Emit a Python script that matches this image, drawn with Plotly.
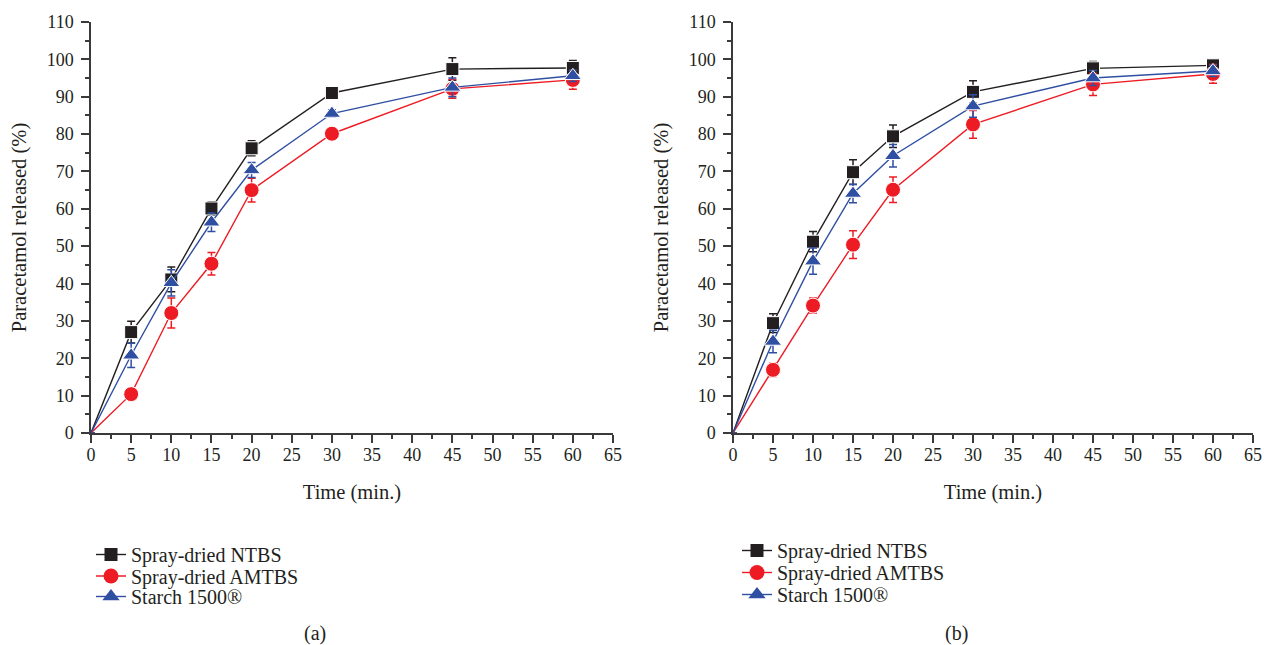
import plotly.graph_objects as go

time_min = [0, 5, 10, 15, 20, 30, 45, 60]

# Panel (a)
a_ntbs = [0, 27.0, 41.1, 60.1, 76.2, 91.0, 97.4, 97.7]
a_ntbs_err = [0, 2.9, 3.3, 1.8, 2.0, 0.8, 3.0, 2.0]
a_amtbs = [0, 10.4, 32.1, 45.3, 65.0, 80.1, 92.1, 94.5]
a_amtbs_err = [0, 0.8, 4.0, 3.0, 3.2, 1.5, 2.5, 2.5]
a_starch = [0, 20.8, 40.2, 56.4, 70.4, 85.5, 92.5, 95.6]
a_starch_err = [0, 3.3, 3.5, 2.5, 2.0, 1.0, 2.5, 1.5]

# Panel (b)
b_ntbs = [0, 29.4, 51.2, 69.8, 79.4, 91.3, 97.6, 98.4]
b_ntbs_err = [0, 2.5, 2.7, 3.3, 3.0, 3.0, 1.8, 1.5]
b_amtbs = [0, 16.9, 34.1, 50.4, 65.1, 82.6, 93.3, 96.1]
b_amtbs_err = [0, 1.8, 2.0, 3.7, 3.4, 3.7, 3.0, 2.5]
b_starch = [0, 24.5, 46.0, 64.1, 74.2, 87.5, 95.0, 96.9]
b_starch_err = [0, 3.0, 3.5, 2.5, 3.0, 3.0, 2.0, 1.5]

series_names = ["Spray-dried NTBS", "Spray-dried AMTBS", "Starch 1500®"]
x_ticks = list(range(0, 70, 5))
y_ticks = list(range(0, 120, 10))
x_title = "Time (min.)"
y_title = "Paracetamol released (%)"
panel_labels = ["(a)", "(b)"]

colors = ["#231f20", "#ed1c24", "#2f4fa2"]
symbols = ["square", "circle", "triangle-up"]
msizes = [13, 15, 15]
FONT = "Liberation Serif, Times New Roman, serif"
TXT = "#231f20"
AX = "#3a3a3a"
W, H = 1264, 645

def px(v):
    return v / W

def py(v):
    return 1 - v / H

fig = go.Figure()
panels = [
    ([a_ntbs, a_amtbs, a_starch], [a_ntbs_err, a_amtbs_err, a_starch_err], "x", "y"),
    ([b_ntbs, b_amtbs, b_starch], [b_ntbs_err, b_amtbs_err, b_starch_err], "x2", "y2"),
]
legend_pos = [
    [(91, 554.5), (91, 576), (91, 596.5)],
    [(737, 550.5), (737, 572.5), (737, 594.5)],
]
k = 0
for p, (vals, errs, xa, ya) in enumerate(panels):
    for i in range(3):
        k += 1
        lname = "legend" if k == 1 else f"legend{k}"
        # data trace: no marker drawn at the origin point, as in the reference
        sizes = [0 if t == 0 else msizes[i] for t in time_min]
        fig.add_trace(go.Scatter(
            x=time_min, y=vals[i], name=series_names[i], mode="lines+markers",
            xaxis=xa, yaxis=ya, showlegend=False,
            line=dict(color=colors[i], width=1.4),
            marker=dict(color=colors[i], symbol=symbols[i], size=sizes, opacity=1),
            error_y=dict(type="data", array=errs[i], visible=True,
                         color=colors[i], thickness=1.5, width=4),
        ))
        # legend entry (no data drawn)
        fig.add_trace(go.Scatter(
            x=[None], y=[None], name=series_names[i], mode="lines+markers",
            xaxis=xa, yaxis=ya, legend=lname, showlegend=True,
            line=dict(color=colors[i], width=1.4),
            marker=dict(color=colors[i], symbol=symbols[i], size=msizes[i]),
        ))

layout_legends = {}
k = 0
for p in range(2):
    for i in range(3):
        k += 1
        lname = "legend" if k == 1 else f"legend{k}"
        lx, ly = legend_pos[p][i]
        layout_legends[lname] = dict(
            x=px(lx), y=py(ly), xanchor="left", yanchor="middle",
            font=dict(family=FONT, size=20, color=TXT),
            bgcolor="rgba(0,0,0,0)", borderwidth=0,
            itemwidth=30, tracegroupgap=0,
        )

axis_common = dict(
    showgrid=False, zeroline=False, showline=True, linecolor=AX,
    linewidth=1.5, ticks="outside", ticklen=8, tickwidth=1.5,
    tickcolor=AX, mirror=False,
    tickfont=dict(family=FONT, size=18, color=TXT),
    title_font=dict(family=FONT, size=20.5, color=TXT),
)

xdom_a = [px(91), px(613)]
xdom_b = [px(733), px(1253)]
ydom = [py(433), py(22)]
xminor = dict(dtick=2.5, ticks="outside", ticklen=4, tickwidth=1.5, tickcolor=AX)
yminor = dict(dtick=5, ticks="outside", ticklen=4, tickwidth=1.5, tickcolor=AX)

fig.update_layout(
    width=W, height=H,
    margin=dict(l=0, r=0, t=0, b=0),
    paper_bgcolor="white", plot_bgcolor="white",
    showlegend=True,
    xaxis=dict(domain=xdom_a, range=[0, 65], tickvals=x_ticks, anchor="y", minor=xminor,
               ticklabelstandoff=-3,
               title=dict(text=x_title, standoff=20), **axis_common),
    yaxis=dict(domain=ydom, range=[0, 110], tickvals=y_ticks, anchor="x", minor=yminor,
               ticklabelstandoff=4,
               title=dict(text=y_title, standoff=14), **axis_common),
    xaxis2=dict(domain=xdom_b, range=[0, 65], tickvals=x_ticks, anchor="y2", minor=xminor,
                ticklabelstandoff=-3,
                title=dict(text=x_title, standoff=20), **axis_common),
    yaxis2=dict(domain=ydom, range=[0, 110], tickvals=y_ticks, anchor="x2", minor=yminor,
                ticklabelstandoff=4,
                title=dict(text=y_title, standoff=14), **axis_common),
    annotations=[
        dict(text=panel_labels[0], x=px(315), y=py(633), xref="paper", yref="paper",
             xanchor="center", yanchor="middle",
             showarrow=False, font=dict(family=FONT, size=20, color=TXT)),
        dict(text=panel_labels[1], x=px(956), y=py(633), xref="paper", yref="paper",
             xanchor="center", yanchor="middle",
             showarrow=False, font=dict(family=FONT, size=20, color=TXT)),
    ],
    **layout_legends,
)
fig.update_xaxes(automargin=False)
fig.update_yaxes(automargin=False)

fig.write_html("out.html", post_script="document.body.style.margin='0';",
               config={"displayModeBar": False})
